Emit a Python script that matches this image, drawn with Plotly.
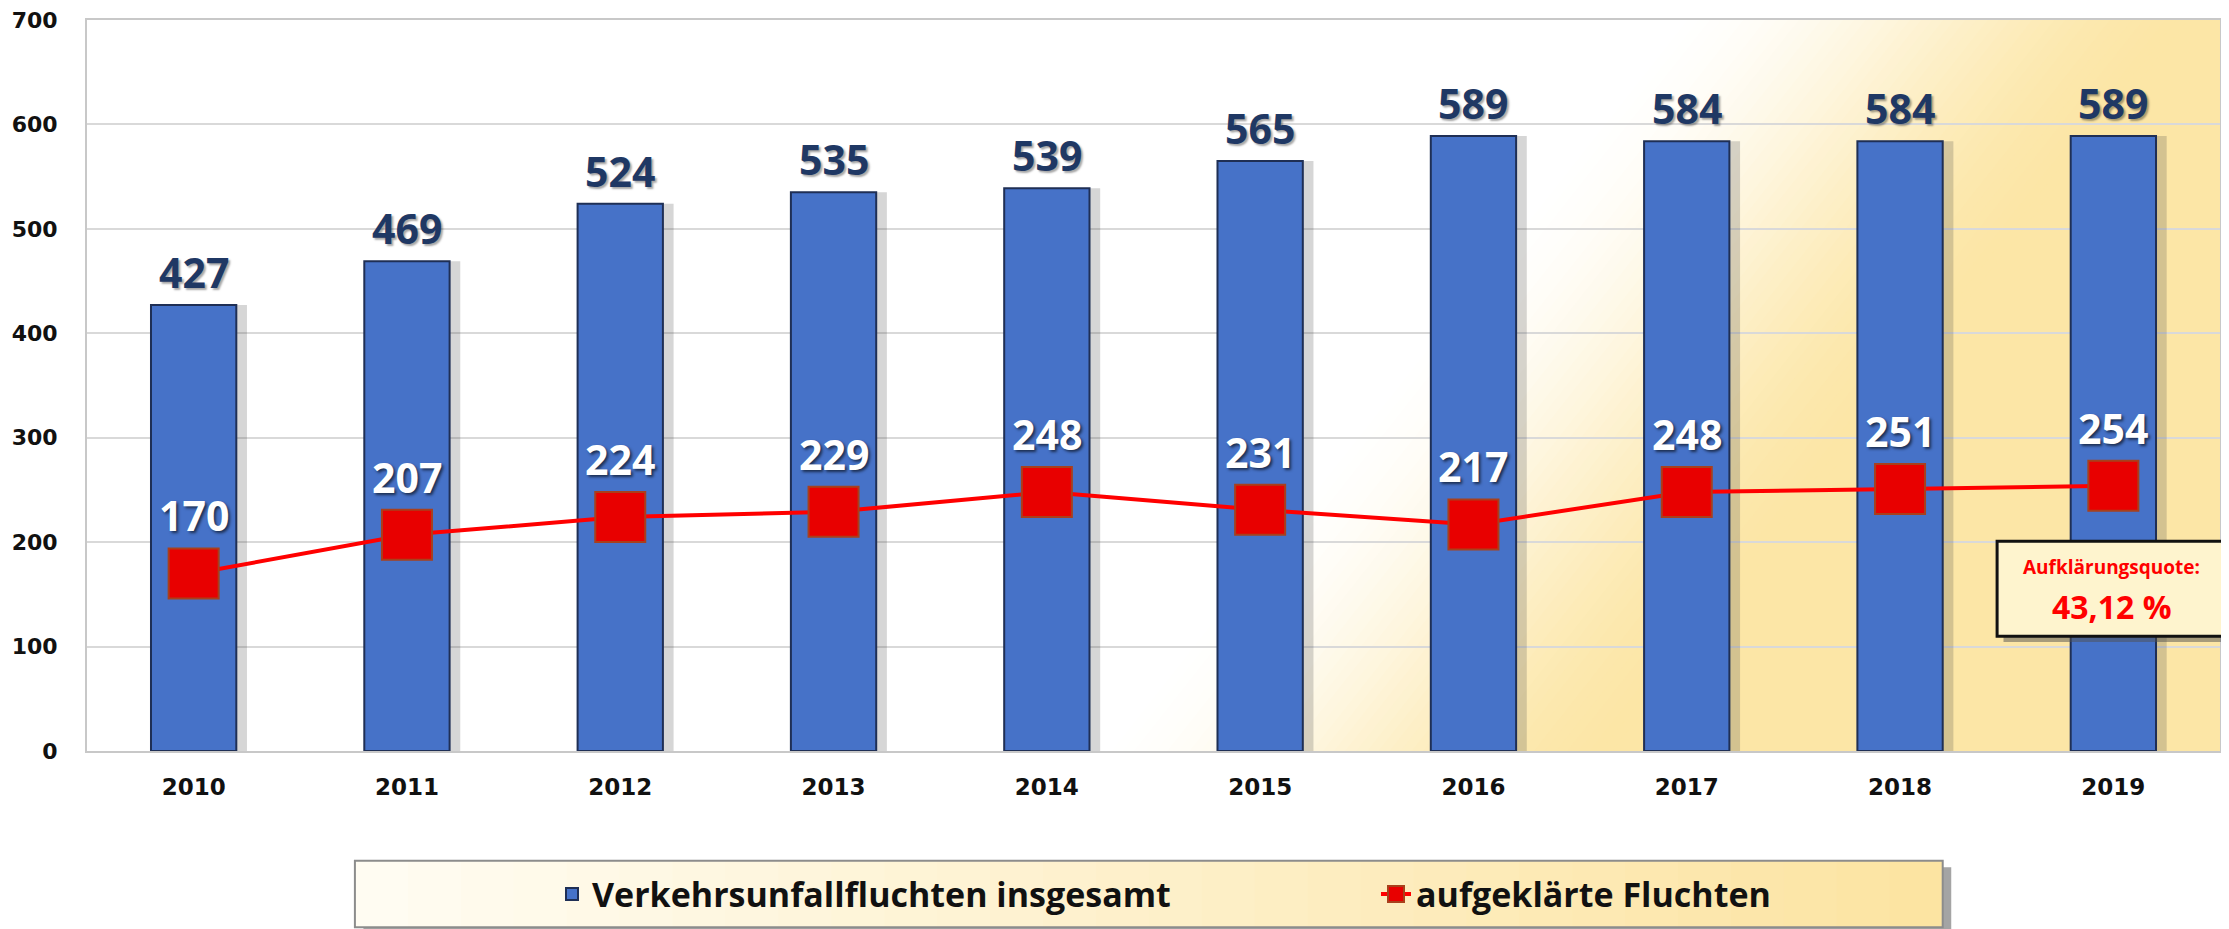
import plotly.graph_objects as go

years = ["2010", "2011", "2012", "2013", "2014", "2015", "2016", "2017", "2018", "2019"]
total = [427, 469, 524, 535, 539, 565, 589, 584, 584, 589]
solved = [170, 207, 224, 229, 248, 231, 217, 248, 251, 254]
name_total = "Verkehrsunfallfluchten insgesamt"
name_solved = "aufgeklärte Fluchten"
quote_title = "Aufklärungsquote:"
quote_value = "43,12 %"
y_ticks = [0, 100, 200, 300, 400, 500, 600, 700]

FONT = "Open Sans"
TICKFONT = "DejaVu Sans"
BAR_W = 0.4

fig = go.Figure()

# soft shadow of the bars
fig.add_trace(go.Bar(
    x=years, y=total, width=BAR_W, offset=-BAR_W / 2 + 0.05,
    marker=dict(color="rgba(70,70,70,0.22)", line=dict(width=0)),
    showlegend=False, hoverinfo="skip",
))
fig.add_trace(go.Bar(
    x=years, y=total, name=name_total, width=BAR_W,
    marker=dict(color="#4672C8", line=dict(color="#1F2F55", width=2)),
))
fig.add_trace(go.Scatter(
    x=years, y=solved, name=name_solved, mode="lines+markers",
    line=dict(color="#FF0000", width=4),
    marker=dict(symbol="square", size=50, color="#E80000",
                line=dict(color="#A8401C", width=2)),
))

annotations = []
for i, v in enumerate(total):
    annotations.append(dict(
        x=i, y=v, xref="x", yref="y", text=str(v), showarrow=False,
        yanchor="middle", yshift=33,
        font=dict(family=FONT, size=41, color="#1F3864", weight="bold",
                  shadow="2px 2px 2px rgba(0,0,0,0.35)"),
    ))
for i, v in enumerate(solved):
    annotations.append(dict(
        x=i, y=v, xref="x", yref="y", text=str(v), showarrow=False,
        yanchor="middle", yshift=58,
        font=dict(family=FONT, size=41, color="#FFFFFF", weight="bold",
                  shadow="2px 2px 3px rgba(0,0,0,0.6)"),
    ))
annotations.append(dict(
    x=0.949, y=0.252, xref="paper", yref="paper", text=quote_title,
    showarrow=False, xanchor="center", yanchor="middle",
    font=dict(family=FONT, size=19, color="#FF0000", weight="bold"),
))
annotations.append(dict(
    x=0.949, y=0.198, xref="paper", yref="paper", text=quote_value,
    showarrow=False, xanchor="center", yanchor="middle",
    font=dict(family=FONT, size=32, color="#FF0000", weight="bold"),
))

# ---- background gradient inside plot area (diagonal bands) ----
def clip_square(a, b):
    pts = [(0, 0), (1, 0), (1, 1), (0, 1)]
    f = lambda p: p[0] - a - b * p[1]
    out = []
    for i in range(len(pts)):
        p, q = pts[i], pts[(i + 1) % len(pts)]
        fp, fq = f(p), f(q)
        if fp >= 0:
            out.append(p)
        if (fp >= 0) != (fq >= 0):
            t = fp / (fp - fq)
            out.append((p[0] + t * (q[0] - p[0]), p[1] + t * (q[1] - p[1])))
    return out

def lerp_col(c0, c1, t):
    return "rgb(%d,%d,%d)" % tuple(round(c0[k] + (c1[k] - c0[k]) * t) for k in range(3))

shapes = []
N = 48
white = (255, 255, 255)
cream = (252, 230, 166)
for i in range(1, N + 1):
    t = i / N
    a = 0.47 + 0.25 * (i - 1) / N
    poly = clip_square(a, 0.27)
    if len(poly) < 3:
        continue
    path = "M " + " L ".join("%.5f,%.5f" % p for p in poly) + " Z"
    s = t * t * (3 - 2 * t)
    shapes.append(dict(type="path", path=path, xref="paper", yref="paper",
                       fillcolor=lerp_col(white, cream, s), line=dict(width=0),
                       layer="below"))

# ---- legend box (shadow + gradient) ----
lx0, lx1, ly0, ly1 = 0.1256, 0.870, -0.241, -0.150
shapes.append(dict(type="rect", xref="paper", yref="paper",
                   x0=lx0 + 0.004, x1=lx1 + 0.004, y0=ly0 - 0.009, y1=ly1 - 0.009,
                   fillcolor="rgba(90,90,90,0.55)", line=dict(width=0), layer="below"))
M = 30
for i in range(M):
    xa = lx0 + (lx1 - lx0) * i / M
    xb = lx0 + (lx1 - lx0) * (i + 1) / M + 0.0005
    t = i / (M - 1)
    shapes.append(dict(type="rect", xref="paper", yref="paper",
                       x0=xa, x1=min(xb, lx1), y0=ly0, y1=ly1,
                       fillcolor=lerp_col((255, 252, 242), (252, 228, 162), t),
                       line=dict(width=0), layer="below"))
shapes.append(dict(type="rect", xref="paper", yref="paper",
                   x0=lx0, x1=lx1, y0=ly0, y1=ly1,
                   fillcolor="rgba(0,0,0,0)", line=dict(color="#8C8C8C", width=2),
                   layer="below"))

# ---- quote box ----
bx0, bx1, by0, by1 = 0.8955, 1.0023, 0.157, 0.287
shapes.append(dict(type="rect", xref="paper", yref="paper",
                   x0=bx0 + 0.003, x1=bx1 + 0.003, y0=by0 - 0.008, y1=by1 - 0.008,
                   fillcolor="rgba(80,80,80,0.5)", line=dict(width=0), layer="above"))
shapes.append(dict(type="rect", xref="paper", yref="paper",
                   x0=bx0, x1=bx1, y0=by0, y1=by1,
                   fillcolor="#FEF4CE", line=dict(color="#111111", width=3),
                   layer="above"))

# page body has an 8px default margin -> figure sized 2221x921
fig.update_layout(
    width=2221, height=921, autosize=False,
    margin=dict(l=79, r=9, t=12, b=178, autoexpand=False),
    paper_bgcolor="white", plot_bgcolor="white",
    barmode="overlay",
    showlegend=True,
    legend=dict(orientation="h", x=0.218, xanchor="left", y=-0.196, yanchor="middle",
                bgcolor="rgba(0,0,0,0)", borderwidth=0,
                font=dict(family=FONT, size=34, color="#111111", weight="bold"),
                entrywidth=779, entrywidthmode="pixels", itemsizing="trace"),
    annotations=annotations,
    shapes=shapes,
    font=dict(family=FONT),
)
fig.update_xaxes(
    type="category", range=[-0.5, len(years) - 0.5], autorange=False, automargin=False,
    showgrid=False, showline=True, linecolor="#C8C8C8", linewidth=2,
    mirror=True, ticks="outside", ticklen=14, tickcolor="rgba(0,0,0,0)",
    tickfont=dict(family=TICKFONT, size=23, color="#111111", weight="bold"),
)
fig.update_yaxes(
    range=[0, 700], tickvals=y_ticks, automargin=False, ticklabeloverflow="allow",
    showgrid=True, gridcolor="#D9D9D9", gridwidth=1.5,
    showline=True, linecolor="#C8C8C8", linewidth=2, mirror=True, zeroline=False,
    ticks="outside", ticklen=23, tickcolor="rgba(0,0,0,0)",
    tickfont=dict(family=TICKFONT, size=22, color="#111111", weight="bold"),
)

fig.write_html("out.html")
